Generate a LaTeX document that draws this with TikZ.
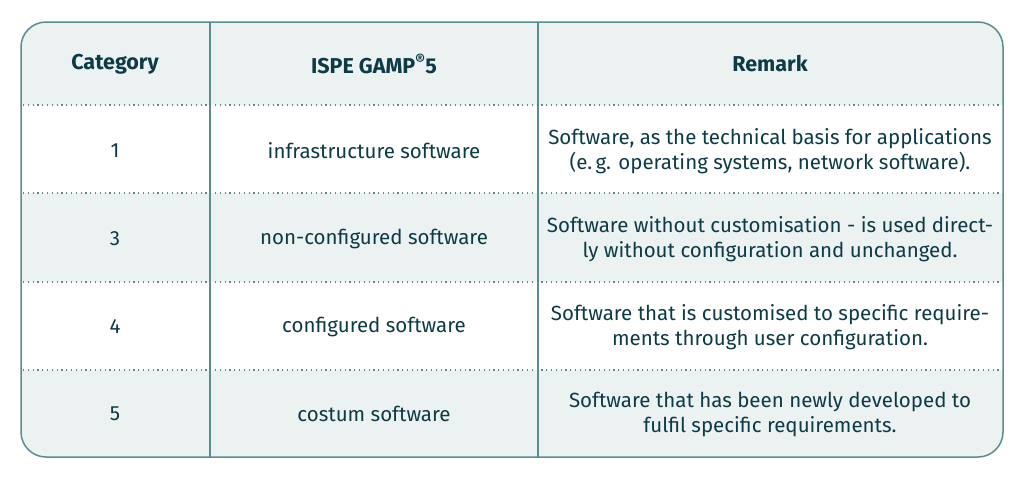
\documentclass[tikz,border=0pt]{standalone}
\usepackage{fontspec}
\setmainfont{Fira Sans}
\definecolor{bord}{HTML}{5A8C90}
\definecolor{fillc}{HTML}{ECF2F2}
\definecolor{txt}{HTML}{0E3A45}
\begin{document}
\begin{tikzpicture}[x=1pt,y=-1pt,
  cell/.style={text=txt,font=\fontsize{20.5}{25}\selectfont,align=center,inner sep=0},
  head/.style={cell,font=\fontsize{21.5}{25}\selectfont\bfseries},
  dots/.style={bord,line width=1.2pt,dash pattern=on 1.2pt off 3.6pt}]
\useasboundingbox (0,0) rectangle (1024,477);
\begin{scope}
\clip[rounded corners=25] (21,22) rectangle (1003,457);
\fill[fillc] (21,22) rectangle (1003,105);
\fill[fillc] (21,193) rectangle (1003,282);
\fill[fillc] (21,370) rectangle (1003,457);
\end{scope}
\foreach \y in {105,193,282,370} \draw[dots] (23,\y) -- (1001,\y);
\draw[bord,line width=1.5pt] (210,22) -- (210,457) (538,22) -- (538,457);
\draw[bord,line width=1.5pt,rounded corners=25] (21,22) rectangle (1003,457);
\node[head] (h1) at (115,64) {Category};
\node[head] (h2) at (374,64) {ISPE GAMP\textsuperscript{®}5};
\node[head] (h3) at (770,64) {Remark};
\node[cell] (c11) at (115,151) {1};
\node[cell] (c12) at (374,151) {infrastructure software};
\node[cell] (c13) at (770,151) {Software, as the technical basis for applications\\(e.\,g. operating systems, network software).};
\node[cell] (c21) at (115,239) {3};
\node[cell] (c22) at (374,239) {non-configured software};
\node[cell] (c23) at (770,239) {Software without customisation - is used direct-\\ly without configuration and unchanged.};
\node[cell] (c31) at (115,327) {4};
\node[cell] (c32) at (374,327) {configured software};
\node[cell] (c33) at (770,327) {Software that is customised to specific require-\\ments through user configuration.};
\node[cell] (c41) at (115,414) {5};
\node[cell] (c42) at (374,414) {costum software};
\node[cell] (c43) at (770,414) {Software that has been newly developed to\\fulfil specific requirements.};
\end{tikzpicture}
\end{document}
